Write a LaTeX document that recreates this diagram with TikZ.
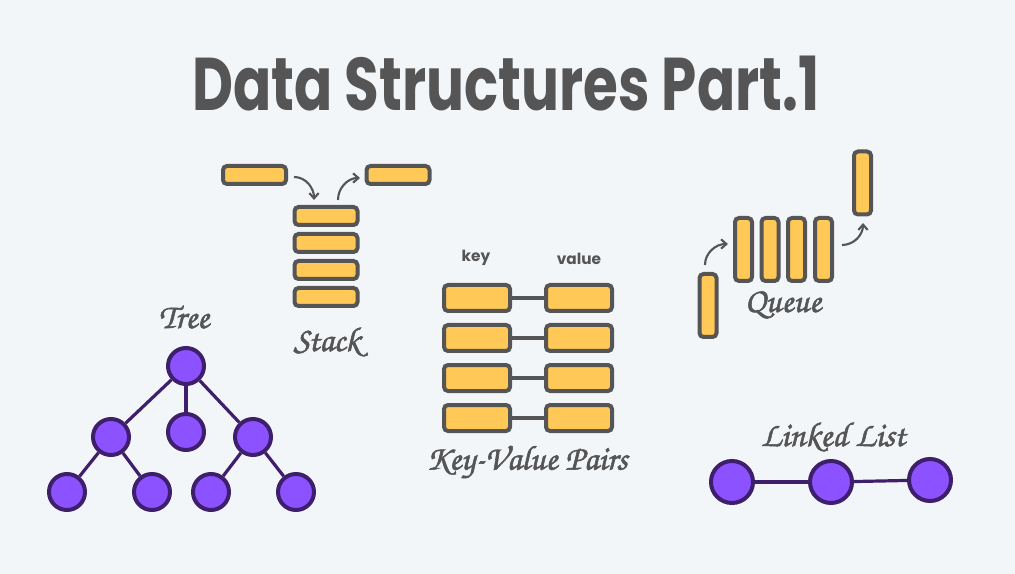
\documentclass[tikz,border=0pt]{standalone}
\usepackage{fontspec}
\usetikzlibrary{arrows.meta}
\setmainfont{Poppins}
\newfontfamily\titlefont{Poppins Bold}
\newfontfamily\hand[FakeBold=1.6]{texgyrechorus-mediumitalic.otf}
\definecolor{bg}{HTML}{F3F6F9}
\definecolor{ink}{HTML}{555555}
\definecolor{gold}{HTML}{FFC857}
\definecolor{violet}{HTML}{8C52FF}
\definecolor{dviolet}{HTML}{3D1F6B}
\tikzset{
  bar/.style={draw=ink, fill=gold, line width=3pt, rounded corners=3pt, inner sep=0pt},
  hbar/.style={bar, minimum width=47.25pt, minimum height=13.5pt},
  vbar/.style={bar, minimum width=12.75pt, minimum height=47.25pt},
  kvbox/.style={bar, minimum width=49.5pt, minimum height=19.5pt},
  vnode/.style={circle, draw=dviolet, fill=violet, line width=3pt, inner sep=0pt, minimum size=27pt},
  lnode/.style={vnode, minimum size=31.5pt},
  vedge/.style={draw=dviolet, line width=2.4pt},
  kvlink/.style={draw=ink, line width=2.6pt},
  arr/.style={draw=ink, line width=1.6pt, -{Straight Barb[length=4pt,width=7pt]}},
  lbl/.style={text=ink, font=\hand\fontsize{26}{26}\selectfont},
  small/.style={text=ink, font=\titlefont\fontsize{11.5}{12}\selectfont}
}
\begin{document}
\begin{tikzpicture}[x=0.75pt,y=-0.75pt]
\useasboundingbox[fill=bg] (0,0) rectangle (1015,574);
% title
\node[text=ink, font=\titlefont\fontsize{56}{60}\selectfont] (title) at (506,84) {\scalebox{0.755}[1]{Data Structures Part.1}};
% stack
\node[hbar] (sin) at (254.5,175) {};
\node[hbar] (sout) at (398,175) {};
\node[hbar] (s1) at (326,216) {};
\node[hbar] (s2) at (326,243) {};
\node[hbar] (s3) at (326,270) {};
\node[hbar] (s4) at (326,297) {};
\coordinate (a1s) at (294,177);
\coordinate (a1e) at (314,200);
\coordinate (a2s) at (338,200);
\coordinate (a2e) at (360,178);
\draw[arr] (a1s) to[out=0,in=90] (a1e);
\draw[arr] (a2s) to[out=90,in=180] (a2e);
\node[lbl] (stacklbl) at (327,342) {Stack};
% key value
\node[small] (keylbl) at (476,258) {key};
\node[small] (vallbl) at (579,259) {value};
\foreach \i/\y in {1/298,2/338,3/378,4/418}{
  \node[kvbox] (k\i) at (477,\y) {};
  \node[kvbox] (v\i) at (579,\y) {};
  \draw[kvlink] (k\i) -- (v\i);
}
\node[lbl] (kvlbl) at (527,462) {Key-Value Pairs};
% queue
\node[vbar] (q1) at (743.5,249.5) {};
\node[vbar] (q2) at (770,249.5) {};
\node[vbar] (q3) at (796.5,249.5) {};
\node[vbar] (q4) at (823.5,249.5) {};
\node[vbar] (qin) at (708,305.5) {};
\node[vbar] (qout) at (862.5,183) {};
\coordinate (b1s) at (705,265);
\coordinate (b1e) at (728,244);
\coordinate (b2s) at (842,245);
\coordinate (b2e) at (863,223);
\draw[arr] (b1s) to[out=90,in=180] (b1e);
\draw[arr] (b2s) to[out=0,in=-90] (b2e);
\node[lbl] (qlbl) at (783,305) {Queue};
% tree
\node[lbl] (treelbl) at (184,317) {Tree};
\node[vnode] (r) at (186,366) {};
\node[vnode] (c1) at (111,437) {};
\node[vnode] (c2) at (186,432) {};
\node[vnode] (c3) at (253,437) {};
\node[vnode] (l1) at (67,492) {};
\node[vnode] (l2) at (152,492) {};
\node[vnode] (l3) at (211,492) {};
\node[vnode] (l4) at (296,492) {};
\draw[vedge] (r) -- (c1);
\draw[vedge] (r) -- (c2);
\draw[vedge] (r) -- (c3);
\draw[vedge] (c1) -- (l1);
\draw[vedge] (c1) -- (l2);
\draw[vedge] (c3) -- (l3);
\draw[vedge] (c3) -- (l4);
% linked list
\node[lbl] (lllbl) at (833,437) {Linked List};
\node[lnode] (n1) at (732,482) {};
\node[lnode] (n2) at (831,482) {};
\node[lnode] (n3) at (930,480) {};
\draw[vedge] (n1) -- (n2);
\draw[vedge] (n2) -- (n3);
\end{tikzpicture}
\end{document}
